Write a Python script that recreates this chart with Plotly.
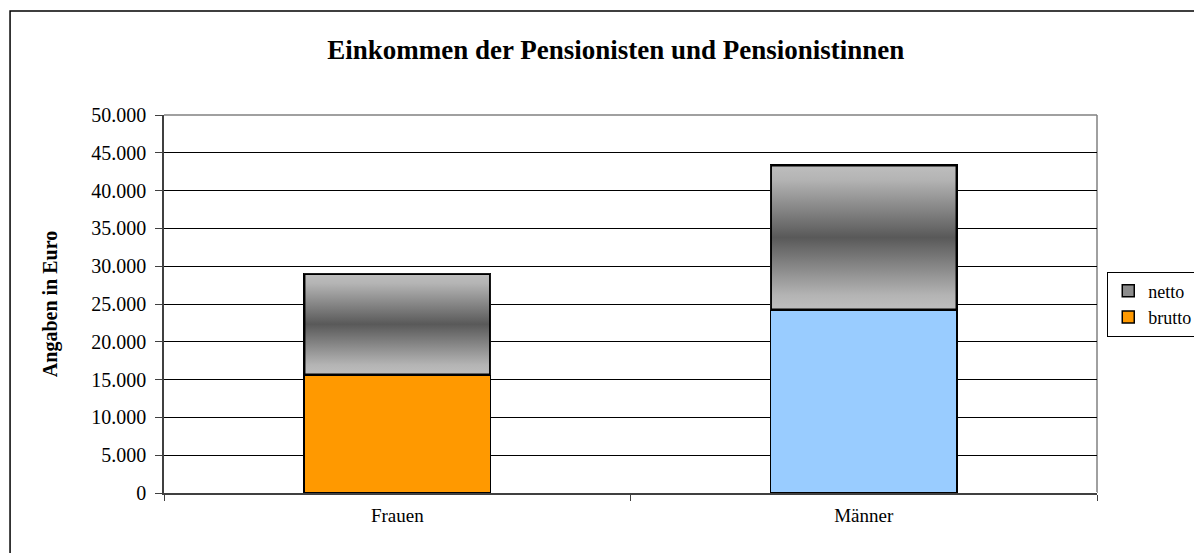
import base64
import plotly.graph_objects as go

categories = ["Frauen", "Männer"]
brutto = [15600, 24200]
netto = [13450, 19200]
brutto_colors = ["#FF9900", "#99CCFF"]
y_ticks = [0, 5000, 10000, 15000, 20000, 25000, 30000, 35000, 40000, 45000, 50000]

FONT = "Liberation Serif, Times New Roman, serif"
BAR_W = 0.4

fig = go.Figure()
fig.add_trace(go.Bar(
    name="brutto", x=categories, y=brutto, width=BAR_W,
    marker=dict(color=brutto_colors, line=dict(color="#000000", width=1.5)),
))
fig.add_trace(go.Bar(
    name="netto", x=categories, y=netto, width=BAR_W,
    marker=dict(color="#8C8C8C", line=dict(color="#000000", width=1.5)),
))

svg = (
    '<svg xmlns="http://www.w3.org/2000/svg" viewBox="0 0 100 100" preserveAspectRatio="none">'
    '<defs><linearGradient id="g" x1="0" y1="0" x2="0" y2="1">'
    '<stop offset="0" stop-color="#BEBEBE"/>'
    '<stop offset="0.1" stop-color="#B4B4B4"/>'
    '<stop offset="0.5" stop-color="#595959"/>'
    '<stop offset="0.9" stop-color="#B4B4B4"/>'
    '<stop offset="1" stop-color="#BEBEBE"/>'
    '</linearGradient></defs>'
    '<rect x="0" y="0" width="100" height="100" fill="url(#g)" stroke="#000" '
    'stroke-width="3" vector-effect="non-scaling-stroke"/></svg>'
)
src = "data:image/svg+xml;base64," + base64.b64encode(svg.encode()).decode()

images = []
for i, (b, n) in enumerate(zip(brutto, netto)):
    images.append(dict(
        source=src, xref="x", yref="y", x=i - BAR_W / 2, y=b + n,
        sizex=BAR_W, sizey=n, xanchor="left", yanchor="top",
        sizing="stretch", layer="above",
    ))

fig.update_layout(
    width=1194, height=545,
    margin=dict(l=156, r=105, t=107, b=60, autoexpand=False),
    paper_bgcolor="white", plot_bgcolor="white",
    barmode="stack", separators=",.",
    font=dict(family=FONT, color="#000000", size=17),
    title=dict(text="<b>Einkommen der Pensionisten und Pensionistinnen</b>",
               x=0.509, xref="container", y=0.923, yref="container",
               xanchor="center", yanchor="middle",
               font=dict(family=FONT, size=27, color="#000000")),
    showlegend=True,
    legend=dict(x=1.011, xanchor="left", y=0.5, yanchor="middle",
                traceorder="reversed", bordercolor="#000000", borderwidth=1,
                font=dict(family=FONT, size=18), bgcolor="white",
                itemwidth=30, tracegroupgap=0),
    xaxis=dict(
        type="category", range=[-0.5, 1.5], tickson="boundaries",
        ticks="outside", ticklen=6, tickcolor="#404040",
        showline=True, linecolor="#404040", linewidth=1.5,
        showgrid=False, tickfont=dict(family=FONT, size=19),
        ticklabelstandoff=4,
    ),
    yaxis=dict(
        range=[0, 50000], tickvals=y_ticks, tickformat=",d",
        ticks="outside", ticklen=7, tickcolor="#404040",
        showline=True, linecolor="#404040", linewidth=1.5,
        showgrid=True, gridcolor="#000000", gridwidth=1,
        tickfont=dict(family=FONT, size=20), ticklabelstandoff=5,
        title=dict(text="<b>Angaben in Euro</b>", standoff=28,
                   font=dict(family=FONT, size=20)),
    ),
    images=images,
    shapes=[
        dict(type="rect", xref="paper", yref="paper", x0=-0.165, x1=1.2,
             y0=-0.3, y1=1.275, line=dict(color="#000000", width=1.5),
             fillcolor="rgba(0,0,0,0)", layer="below"),
        dict(type="line", xref="paper", yref="paper", x0=0, x1=1, y0=1, y1=1,
             line=dict(color="#808080", width=1.5), layer="above"),
        dict(type="line", xref="paper", yref="paper", x0=1, x1=1, y0=0, y1=1,
             line=dict(color="#808080", width=1.5), layer="below"),
    ],
)

fig.write_html("out.html")
